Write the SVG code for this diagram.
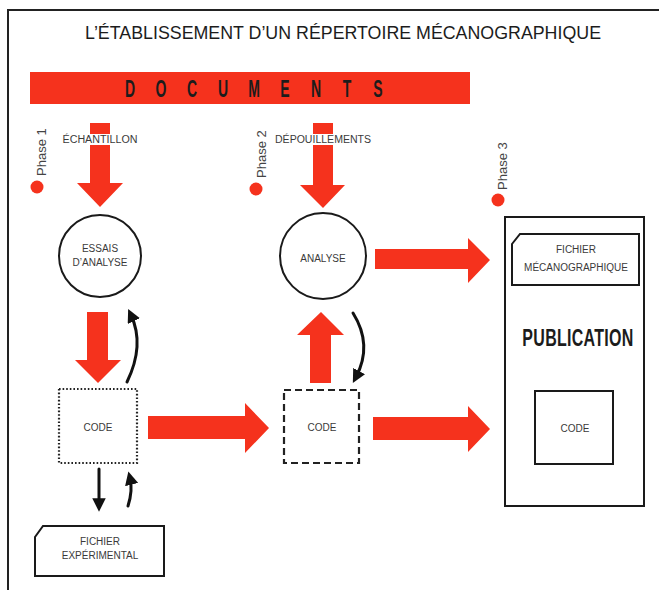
<svg xmlns="http://www.w3.org/2000/svg" width="659" height="590" viewBox="0 0 659 590">
<defs>
<style>
.red{fill:#f5321d}
.lbl{font-family:"Liberation Sans",Arial,sans-serif;font-size:10px;fill:#3a3a3a;text-anchor:middle}
.ph{font-family:"Liberation Sans",Arial,sans-serif;font-size:13px;fill:#444}
.box{fill:#fff;stroke:#1a1a1a;stroke-width:2}
.blk{fill:none;stroke:#111;stroke-width:3;stroke-linecap:round}
.cond{font-family:"Liberation Sans Narrow","Liberation Sans",Arial,sans-serif;fill:#1c1c1c}
</style>
<marker id="ah" viewBox="0 0 10 10" refX="5" refY="5" markerWidth="4.5" markerHeight="4.5" orient="auto" markerUnits="strokeWidth">
<path d="M0,0 L10,5 L0,10 Z" fill="#111"/>
</marker>
</defs>
<rect width="659" height="590" fill="#fff"/>
<path d="M8,590 V10 H659" fill="none" stroke="#222" stroke-width="2"/>
<text x="85" y="39" class="cond" font-size="18" textLength="516" lengthAdjust="spacingAndGlyphs" fill="#222">L’ÉTABLISSEMENT D’UN RÉPERTOIRE MÉCANOGRAPHIQUE</text>

<g id="documents">
<rect x="30" y="72" width="440" height="32" class="red"/>
<g class="cond" font-size="14" font-weight="bold" text-anchor="middle" fill="#2a1610" transform="scale(1,1.65)">
<text x="130" y="58.8">D</text>
<text x="161" y="58.8">O</text>
<text x="192" y="58.8">C</text>
<text x="223" y="58.8">U</text>
<text x="254" y="58.8">M</text>
<text x="285" y="58.8">E</text>
<text x="316" y="58.8">N</text>
<text x="347" y="58.8">T</text>
<text x="378" y="58.8">S</text>
</g>
</g>

<g id="phase1">
<text class="ph" transform="translate(46,176) rotate(-90)">Phase 1</text>
<circle cx="37" cy="187" r="6.5" class="red"/>
</g>
<g id="phase2">
<text class="ph" transform="translate(266,178) rotate(-90)">Phase 2</text>
<circle cx="256" cy="189" r="6.5" class="red"/>
</g>
<g id="phase3">
<text class="ph" transform="translate(507,190) rotate(-90)">Phase 3</text>
<circle cx="498" cy="200" r="6.5" class="red"/>
</g>

<g id="connectors">
<polygon class="red" points="90,123 110,123 110,183 123,183 100,207 77,183 90,183"/>
<polygon class="red" points="87,312 108,312 108,360 121,360 98,383 75,360 87,360"/>
<polygon class="red" points="148,416 245,416 245,403 269,428 245,453 245,439 148,439"/>
<polygon class="red" points="313,123 333,123 333,185 345,185 323,208 300,185 313,185"/>
<polygon class="red" points="375,249 468,249 468,238 490,260 468,283 468,269 375,269"/>
<polygon class="red" points="310,383 331,383 331,335 344,335 321,312 297,335 310,335"/>
<polygon class="red" points="373,417 468,417 468,406 490,429 468,452 468,440 373,440"/>
<path class="blk" d="M127,382 Q145,345 131,315" marker-end="url(#ah)"/>
<path class="blk" d="M353,313 Q373,345 356,377" marker-end="url(#ah)"/>
<path class="blk" d="M99,469 V505" marker-end="url(#ah)"/>
<path class="blk" d="M128,506 Q133,490 130,478" marker-end="url(#ah)"/>
</g>

<g id="echantillon">
<rect x="62" y="134" width="76" height="11" fill="#fff"/>
<text x="100" y="143" class="lbl" textLength="75" lengthAdjust="spacingAndGlyphs">ÉCHANTILLON</text>
</g>
<g id="depouillements">
<rect x="275" y="134" width="98" height="11" fill="#fff"/>
<text x="323" y="143" class="lbl" textLength="96" lengthAdjust="spacingAndGlyphs">DÉPOUILLEMENTS</text>
</g>

<g id="essais">
<circle cx="100" cy="256" r="41" class="box"/>
<text x="100" y="252" class="lbl">ESSAIS</text>
<text x="100" y="266" class="lbl">D’ANALYSE</text>
</g>
<g id="analyse">
<circle cx="323" cy="256" r="43" class="box"/>
<text x="323" y="262" class="lbl">ANALYSE</text>
</g>
<g id="code1">
<rect x="59" y="389" width="78" height="74" fill="#fff" stroke="#222" stroke-width="2.2" stroke-dasharray="1.6 2"/>
<text x="98" y="431" class="lbl">CODE</text>
</g>
<g id="code2">
<rect x="284" y="390" width="75" height="73" fill="#fff" stroke="#222" stroke-width="2.2" stroke-dasharray="7 4"/>
<text x="322" y="431" class="lbl">CODE</text>
</g>
<g id="fichier-exp">
<path d="M43,526 H164 V576 H35 V537 Z" class="box"/>
<text x="100" y="545" class="lbl">FICHIER</text>
<text x="100" y="559" class="lbl">EXPÉRIMENTAL</text>
</g>
<g id="publication">
<rect x="505" y="217" width="139" height="289" class="box" stroke-width="2.5"/>
<path d="M520,234 H639 V285 H512 V244 Z" class="box"/>
<text x="576" y="253" class="lbl">FICHIER</text>
<text x="576" y="271" class="lbl">MÉCANOGRAPHIQUE</text>
<text x="578" y="238.6" class="cond" font-size="16" font-weight="bold" text-anchor="middle" letter-spacing="0.3" transform="scale(1,1.45)">PUBLICATION</text>
<rect x="535" y="391" width="78" height="73" class="box"/>
<text x="575" y="432" class="lbl">CODE</text>
</g>
</svg>
